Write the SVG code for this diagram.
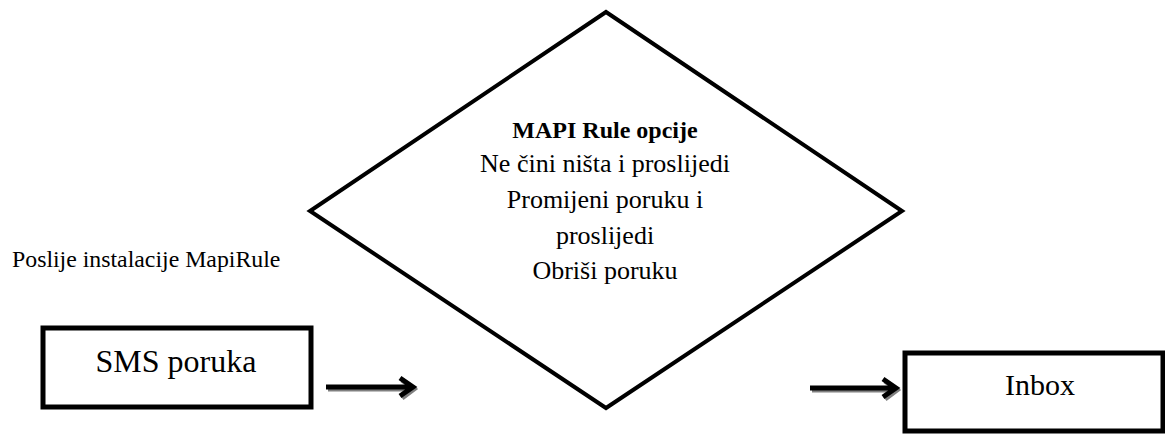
<svg xmlns="http://www.w3.org/2000/svg" width="1165" height="434" viewBox="0 0 1165 434">
<style>
.box{fill:#fff;stroke:#000;stroke-width:5}
.dia{fill:#fff;stroke:#000;stroke-width:4;stroke-linejoin:miter}
.t{font-family:"Liberation Serif","Times New Roman",serif;fill:#000}
.arr{fill:none;stroke:#000;stroke-width:5}
.sh{fill:none;stroke:#808080;stroke-width:5}
</style>
<g id="diamond">
<polygon class="dia" points="606,12 902,211 606,408 310,211"/>
<text class="t" text-anchor="middle" font-size="26"><tspan x="605" y="138" font-weight="bold" font-size="24">MAPI Rule opcije</tspan><tspan x="605" y="172">Ne čini ništa i proslijedi</tspan><tspan x="605" y="208">Promijeni poruku i</tspan><tspan x="605" y="244">proslijedi</tspan><tspan x="605" y="279">Obriši poruku</tspan></text>
</g>
<g id="label">
<text class="t" x="12" y="267" font-size="23.8">Poslije instalacije MapiRule</text>
</g>
<g id="sms">
<rect class="box" x="43" y="328" width="268" height="79"/>
<text class="t" x="176" y="372" font-size="32" text-anchor="middle">SMS poruka</text>
</g>
<g id="inbox">
<rect class="box" x="905" y="353" width="258" height="78"/>
<text class="t" x="1040" y="395" font-size="30" text-anchor="middle">Inbox</text>
</g>
<g id="connectors">
<path class="sh" d="M328,389 L413,389 M402,380 L414,389 L402,398"/>
<path class="arr" d="M326,387 L411,387 M400,378 L413,387 L400,396"/>
<path class="sh" d="M812,390 L896,390 M885,381 L897,390 L885,399"/>
<path class="arr" d="M810,388 L894,388 M883,379 L896,388 L883,397"/>
</g>
</svg>
